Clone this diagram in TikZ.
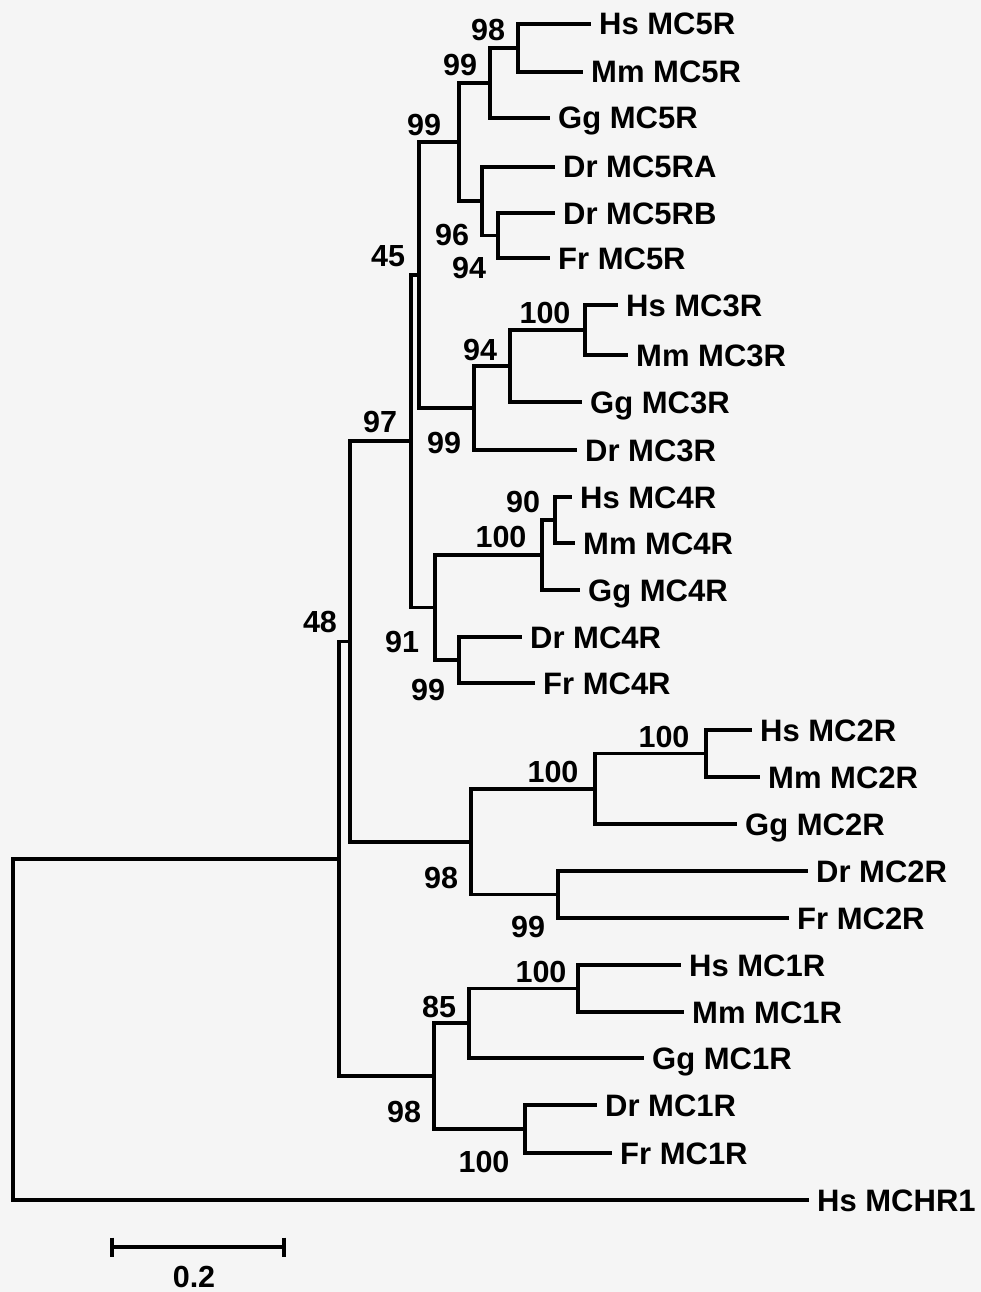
\documentclass[tikz,border=0pt]{standalone}
\usepackage{fontspec}
\setmainfont{Liberation Sans}
\definecolor{bg}{RGB}{245,245,245}
\begin{document}
\begin{tikzpicture}[x=1pt,y=-1pt,
  tree/.style={line width=3.8pt, black},
  taxon/.style={anchor=base west, inner sep=0pt, xshift=8pt, yshift=-11pt, font=\fontsize{31}{36}\selectfont\bfseries},
  boot/.style={anchor=center, inner sep=0pt, font=\fontsize{30.5}{36}\selectfont\bfseries}]
\path[fill=bg] (0,0) rectangle (981,1292);
% tips
\coordinate (t1) at (591,24);
\coordinate (t2) at (583,72);
\coordinate (t3) at (550,118);
\coordinate (t4) at (555,167);
\coordinate (t5) at (555,213);
\coordinate (t6) at (550,258);
\coordinate (t7) at (618,305);
\coordinate (t8) at (628,355);
\coordinate (t9) at (582,402);
\coordinate (t10) at (577,450);
\coordinate (t11) at (572,497);
\coordinate (t12) at (575,543);
\coordinate (t13) at (580,590);
\coordinate (t14) at (522,637);
\coordinate (t15) at (535,683);
\coordinate (t16) at (752,730);
\coordinate (t17) at (760,777);
\coordinate (t18) at (737,824);
\coordinate (t19) at (808,871);
\coordinate (t20) at (789,918);
\coordinate (t21) at (681,965);
\coordinate (t22) at (684,1012);
\coordinate (t23) at (644,1058);
\coordinate (t24) at (597,1105);
\coordinate (t25) at (612,1153);
\coordinate (t26) at (809,1200);
% internal nodes
\coordinate (a98) at (518,48);
\coordinate (a99a) at (490,83);
\coordinate (a94) at (498,235.5);
\coordinate (a96) at (482,201);
\coordinate (a99b) at (459,142);
\coordinate (b100) at (585,330);
\coordinate (b94) at (510,366);
\coordinate (b99) at (474,408);
\coordinate (a45) at (419,275);
\coordinate (c90) at (555,520);
\coordinate (c100) at (542,555);
\coordinate (c99) at (459,660);
\coordinate (c91) at (435,607.5);
\coordinate (n97) at (411,441);
\coordinate (d100a) at (706,753.5);
\coordinate (d100b) at (595,789);
\coordinate (d99) at (558,894.5);
\coordinate (d98) at (471,842);
\coordinate (n48) at (350,641.5);
\coordinate (e100a) at (578,988.5);
\coordinate (e85) at (469,1023);
\coordinate (e100b) at (525,1129);
\coordinate (e98) at (434,1076);
\coordinate (n0) at (339,859);
\coordinate (root) at (13,1029.5);
% branches
\draw[tree] (a98) |- (t1) (a98) |- (t2);
\draw[tree] (a99a) |- (a98) (a99a) |- (t3);
\draw[tree] (a94) |- (t5) (a94) |- (t6);
\draw[tree] (a96) |- (t4) (a96) |- (a94);
\draw[tree] (a99b) |- (a99a) (a99b) |- (a96);
\draw[tree] (b100) |- (t7) (b100) |- (t8);
\draw[tree] (b94) |- (b100) (b94) |- (t9);
\draw[tree] (b99) |- (b94) (b99) |- (t10);
\draw[tree] (a45) |- (a99b) (a45) |- (b99);
\draw[tree] (c90) |- (t11) (c90) |- (t12);
\draw[tree] (c100) |- (c90) (c100) |- (t13);
\draw[tree] (c99) |- (t14) (c99) |- (t15);
\draw[tree] (c91) |- (c100) (c91) |- (c99);
\draw[tree] (n97) |- (a45) (n97) |- (c91);
\draw[tree] (d100a) |- (t16) (d100a) |- (t17);
\draw[tree] (d100b) |- (d100a) (d100b) |- (t18);
\draw[tree] (d99) |- (t19) (d99) |- (t20);
\draw[tree] (d98) |- (d100b) (d98) |- (d99);
\draw[tree] (n48) |- (n97) (n48) |- (d98);
\draw[tree] (e100a) |- (t21) (e100a) |- (t22);
\draw[tree] (e85) |- (e100a) (e85) |- (t23);
\draw[tree] (e100b) |- (t24) (e100b) |- (t25);
\draw[tree] (e98) |- (e85) (e98) |- (e100b);
\draw[tree] (n0) |- (n48) (n0) |- (e98);
\draw[tree] (root) |- (n0) (root) |- (t26);
% taxon labels
\node[taxon] (l1) at (t1) {Hs MC5R};
\node[taxon] (l2) at (t2) {Mm MC5R};
\node[taxon] (l3) at (t3) {Gg MC5R};
\node[taxon] (l4) at (t4) {Dr MC5RA};
\node[taxon] (l5) at (t5) {Dr MC5RB};
\node[taxon] (l6) at (t6) {Fr MC5R};
\node[taxon] (l7) at (t7) {Hs MC3R};
\node[taxon] (l8) at (t8) {Mm MC3R};
\node[taxon] (l9) at (t9) {Gg MC3R};
\node[taxon] (l10) at (t10) {Dr MC3R};
\node[taxon] (l11) at (t11) {Hs MC4R};
\node[taxon] (l12) at (t12) {Mm MC4R};
\node[taxon] (l13) at (t13) {Gg MC4R};
\node[taxon] (l14) at (t14) {Dr MC4R};
\node[taxon] (l15) at (t15) {Fr MC4R};
\node[taxon] (l16) at (t16) {Hs MC2R};
\node[taxon] (l17) at (t17) {Mm MC2R};
\node[taxon] (l18) at (t18) {Gg MC2R};
\node[taxon] (l19) at (t19) {Dr MC2R};
\node[taxon] (l20) at (t20) {Fr MC2R};
\node[taxon] (l21) at (t21) {Hs MC1R};
\node[taxon] (l22) at (t22) {Mm MC1R};
\node[taxon] (l23) at (t23) {Gg MC1R};
\node[taxon] (l24) at (t24) {Dr MC1R};
\node[taxon] (l25) at (t25) {Fr MC1R};
\node[taxon] (l26) at (t26) {Hs MCHR1};
% bootstrap values
\node[boot] (b1) at (488,30) {98};
\node[boot] (b2) at (460,65) {99};
\node[boot] (b3) at (424,125) {99};
\node[boot] (b4) at (452,235) {96};
\node[boot] (b5) at (469,268) {94};
\node[boot] (b6) at (388,256) {45};
\node[boot] (b7) at (545,313) {100};
\node[boot] (b8) at (480,350) {94};
\node[boot] (b9) at (444,443) {99};
\node[boot] (b10) at (380,422) {97};
\node[boot] (b11) at (523,502) {90};
\node[boot] (b12) at (501,537) {100};
\node[boot] (b13) at (402,642) {91};
\node[boot] (b14) at (428,690) {99};
\node[boot] (b15) at (320,622) {48};
\node[boot] (b16) at (664,737) {100};
\node[boot] (b17) at (553,772) {100};
\node[boot] (b18) at (441,878) {98};
\node[boot] (b19) at (528,927) {99};
\node[boot] (b20) at (541,972) {100};
\node[boot] (b21) at (439,1007) {85};
\node[boot] (b22) at (404,1112) {98};
\node[boot] (b23) at (484,1162) {100};
% scale bar
\coordinate (s1) at (112,1247);
\coordinate (s2) at (284,1247);
\draw[tree] (s1) -- (s2);
\draw[tree] ([yshift=9.5pt]s1) -- ([yshift=-9.5pt]s1);
\draw[tree] ([yshift=9.5pt]s2) -- ([yshift=-9.5pt]s2);
\node[boot] (sl) at (194,1277) {0.2};
\end{tikzpicture}
\end{document}
